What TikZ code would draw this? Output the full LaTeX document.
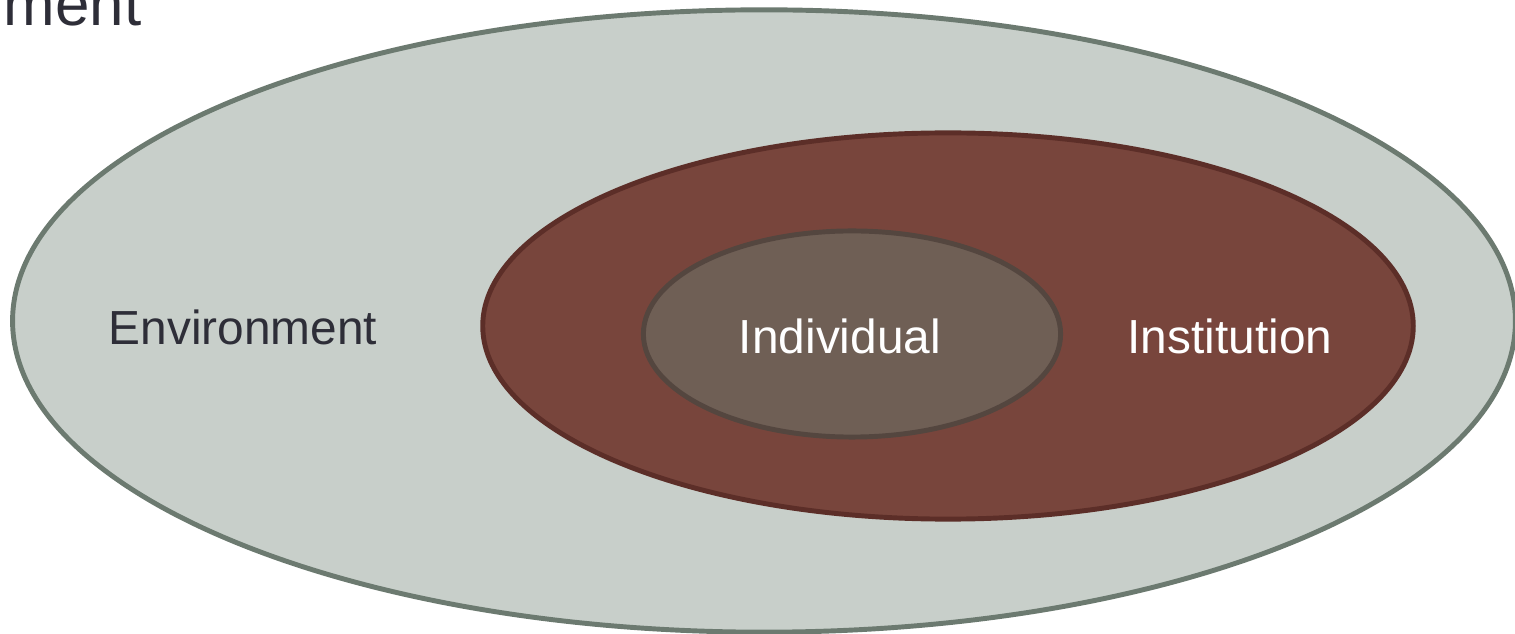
\documentclass[tikz,border=0pt]{standalone}
\usepackage{fontspec}
\setmainfont{Liberation Sans}
\usetikzlibrary{shapes.geometric}
\definecolor{envfill}{HTML}{C8CFCA}
\definecolor{envline}{HTML}{6C7A70}
\definecolor{instfill}{HTML}{78453C}
\definecolor{instline}{HTML}{5C2E28}
\definecolor{indfill}{HTML}{6F5F55}
\definecolor{indline}{HTML}{54463F}
\definecolor{labeldark}{HTML}{2E2E38}
\tikzset{
    layer/.style   = {ellipse, line width=1.4pt, inner sep=0pt},
    tag/.style     = {font=\fontsize{13.6}{16}\selectfont},
    darktag/.style = {tag, text=labeldark},
    lighttag/.style = {tag, text=white}
}

\begin{document}
\begin{tikzpicture}[x=0.01cm, y=-0.01cm]
\useasboundingbox (0,0) rectangle (1515,634);

% Nested spheres, outer to inner
\node[layer, draw=envline, fill=envfill,
      minimum width=15.02cm, minimum height=6.22cm] (environment) at (764,321) {};
\node[layer, draw=instline, fill=instfill,
      minimum width=9.3cm, minimum height=3.86cm] (institution) at (948,326) {};
\node[layer, draw=indline, fill=indfill,
      minimum width=4.17cm, minimum height=2.06cm] (individual) at (852,334) {};

% Labels
\node[darktag] (envlabel) at (243,327) {Environment};
\node[lighttag] (indlabel) at (840,336) {Individual};
\node[lighttag] (instlabel) at (1230,336) {Institution};

% Cropped title at the top edge
\node[darktag, anchor=base west, font=\fontsize{17.6}{20}\selectfont,
      inner sep=0pt] (title) at (3,26) {ment};
\end{tikzpicture}
\end{document}
